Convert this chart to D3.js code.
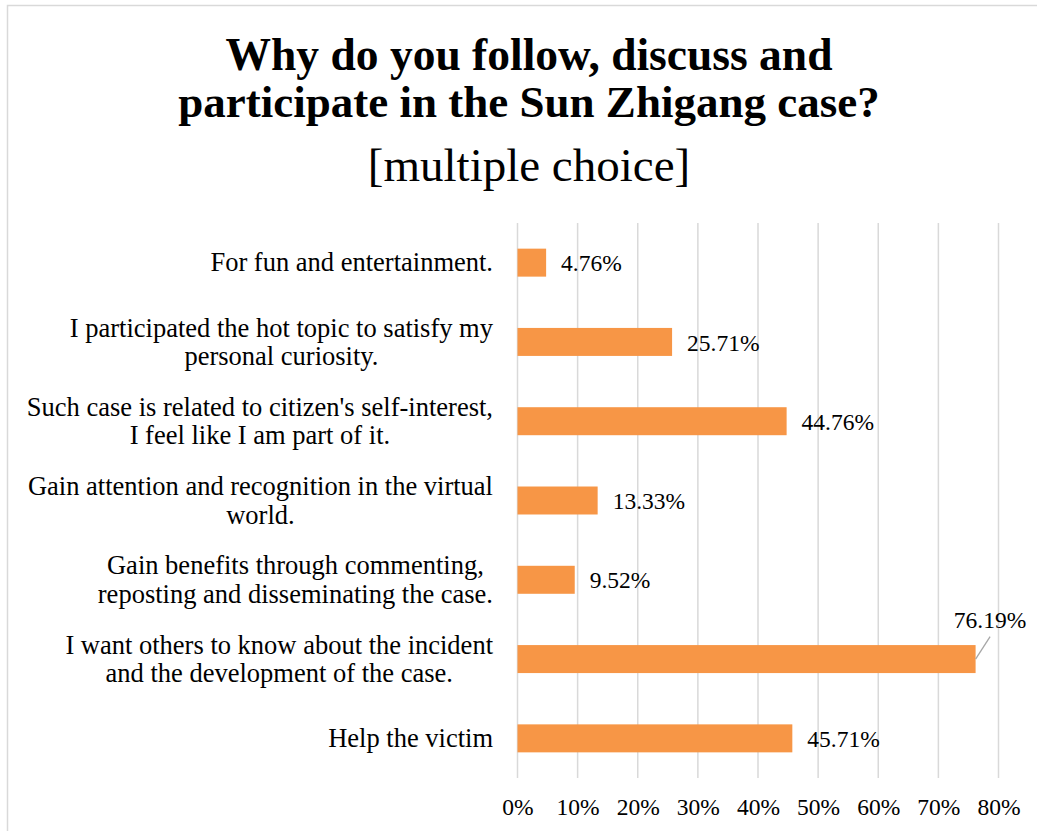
<!DOCTYPE html>
<html>
<head>
<meta charset="utf-8">
<script src="https://cdn.jsdelivr.net/npm/d3@7"></script>
<style>
  html, body { margin: 0; padding: 0; background: #fff; }
  svg { display: block; }
  text { font-family: "Liberation Serif", "Times New Roman", serif; fill: #000; }
</style>
</head>
<body>
<svg id="chart" width="1037" height="831"></svg>
<script>
// Survey answers (top to bottom), each split into its wrapped lines
const categories = [
  ["For fun and entertainment."],
  ["I participated the hot topic to satisfy my", "personal curiosity."],
  ["Such case is related to citizen's self-interest,", "I feel like I am part of it."],
  ["Gain attention and recognition in the virtual", "world."],
  ["Gain benefits through commenting,", "reposting and disseminating the case."],
  ["I want others to know about the incident", "and the development of the case."],
  ["Help the victim"]
];
// Share of respondents choosing each answer
const values = [0.0476, 0.2571, 0.4476, 0.1333, 0.0952, 0.7619, 0.4571];
// Horizontal axis ticks
const tickValues = [0, 0.1, 0.2, 0.3, 0.4, 0.5, 0.6, 0.7, 0.8];
const titleLines = ["Why do you follow, discuss and", "participate in the Sun Zhigang case?"];
const subtitle = "[multiple choice]";

const W = 1037, H = 831;
const FONT = "'Liberation Serif', 'Times New Roman', serif";
const svg = d3.select("#chart");
const BAR = "#F79646";
const GRID = "#d9d9d9";

svg.append("rect").attr("width", W).attr("height", H).attr("fill", "#fff");
// chart frame
svg.append("rect")
  .attr("x", 7.5).attr("y", 5.5).attr("width", W + 20).attr("height", H + 20)
  .attr("fill", "none").attr("stroke", GRID).attr("stroke-width", 1.5);

// title
const cx = 529;
svg.append("text").attr("x", cx).attr("y", 70).attr("text-anchor", "middle")
  .attr("font-family", FONT).attr("font-size", 45.5).attr("font-weight", "bold").text(titleLines[0]);
svg.append("text").attr("x", cx).attr("y", 117).attr("text-anchor", "middle")
  .attr("font-family", FONT).attr("font-size", 45).attr("font-weight", "bold").text(titleLines[1]);
svg.append("text").attr("x", cx).attr("y", 181).attr("text-anchor", "middle")
  .attr("font-family", FONT).attr("font-size", 47).text(subtitle);

const plot = { left: 517.5, right: 998.5, top: 223, bottom: 778 };
const x = d3.scaleLinear().domain([0, 0.8]).range([plot.left, plot.right]);
const keys = categories.map((c, i) => i);
const y = d3.scaleBand().domain(keys).range([plot.top, plot.bottom])
  .paddingInner(0.647).paddingOuter(0.3235);

// vertical gridlines
svg.append("g").selectAll("line").data(tickValues).join("line")
  .attr("x1", d => x(d)).attr("x2", d => x(d))
  .attr("y1", plot.top).attr("y2", plot.bottom)
  .attr("stroke", GRID).attr("stroke-width", 1.5);

// x axis labels
const xAxis = d3.axisBottom(x).tickValues(tickValues).tickSize(0).tickPadding(0)
  .tickFormat(d3.format(".0%"));
const gx = svg.append("g").attr("transform", `translate(0,${plot.bottom})`).call(xAxis);
gx.select(".domain").remove();
gx.attr("font-family", null).attr("font-size", null);
gx.selectAll("text").attr("font-size", 23.5)
  .attr("font-family", FONT)
  .attr("fill", "#000").attr("dy", null).attr("y", 37);

// bars
svg.append("g").selectAll("rect").data(values).join("rect")
  .attr("x", x(0)).attr("y", (d, i) => y(i))
  .attr("width", d => x(d) - x(0)).attr("height", y.bandwidth())
  .attr("fill", BAR);

// category labels: block right-aligned, lines centred on each other
const labelRight = 493;
const lineH = 28.4;
categories.forEach((lines, i) => {
  const mid = y(i) + y.bandwidth() / 2;
  const g = svg.append("g");
  const texts = lines.map((ln, j) => g.append("text")
    .attr("font-family", FONT)
    .attr("font-size", 26.5)
    .attr("text-anchor", "middle")
    .attr("y", mid + 8.8 + (j - (lines.length - 1) / 2) * lineH)
    .text(ln));
  const maxW = d3.max(texts, t => t.node().getComputedTextLength());
  texts.forEach(t => t.attr("x", labelRight - maxW / 2));
});

// value labels
const fmt = d3.format(".2%");
values.forEach((v, i) => {
  const mid = y(i) + y.bandwidth() / 2;
  const t = svg.append("text").attr("font-family", FONT).attr("font-size", 23.5).text(fmt(v));
  const tw = t.node().getComputedTextLength();
  const xEnd = x(v);
  if (xEnd + 15 + tw > W - 5) {
    // not enough room on the right: lift the label and add a leader line
    const lx = xEnd + 14.5;
    t.attr("x", lx).attr("y", mid - 31).attr("text-anchor", "middle");
    svg.append("line")
      .attr("x1", xEnd).attr("y1", mid)
      .attr("x2", lx).attr("y2", mid - 22.5)
      .attr("stroke", "#a6a6a6").attr("stroke-width", 1.3);
  } else {
    t.attr("x", xEnd + 15).attr("y", mid + 8.7);
  }
});
</script>
</body>
</html>
